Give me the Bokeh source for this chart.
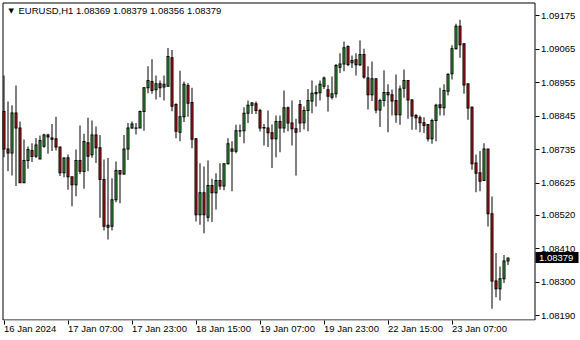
from bokeh.plotting import figure
from bokeh.models import (Range1d, FixedTicker, Label, PrintfTickFormatter, ColumnDataSource,
                          LinearAxis)
from bokeh.embed import file_html
from bokeh.resources import INLINE

symbol_title = "EURUSD,H1  1.08369 1.08379 1.08356 1.08379"

opens = [1.08860, 1.08737, 1.08724, 1.08855, 1.08806, 1.08626, 1.08699, 1.08732, 1.08713, 1.08704,
         1.08746, 1.08783, 1.08773, 1.08770, 1.08743, 1.08659, 1.08708, 1.08646, 1.08619, 1.08699,
         1.08663, 1.08757, 1.08718, 1.08783, 1.08741, 1.08637, 1.08486, 1.08483, 1.08570, 1.08666,
         1.08655, 1.08737, 1.08806, 1.08806, 1.08806, 1.08860, 1.08938, 1.08958, 1.08931, 1.08951,
         1.08940, 1.08943, 1.09036, 1.08883, 1.08792, 1.08843, 1.08945, 1.08889, 1.08770, 1.08521,
         1.08593, 1.08513, 1.08617, 1.08593, 1.08633, 1.08615, 1.08688, 1.08737, 1.08729, 1.08796,
         1.08797, 1.08854, 1.08880, 1.08885, 1.08863, 1.08806, 1.08806, 1.08790, 1.08770, 1.08827,
         1.08806, 1.08872, 1.08822, 1.08803, 1.08883, 1.08823, 1.08863, 1.08894, 1.08918, 1.08921,
         1.08943, 1.08931, 1.08907, 1.08918, 1.09005, 1.09016, 1.09073, 1.09020, 1.09030, 1.09013,
         1.09047, 1.08970, 1.08915, 1.08967, 1.08865, 1.08896, 1.08922, 1.08915, 1.08896, 1.08849,
         1.08936, 1.08962, 1.08898, 1.08847, 1.08839, 1.08823, 1.08817, 1.08770, 1.08830, 1.08882,
         1.08872, 1.08926, 1.08984, 1.09066, 1.09140, 1.09082, 1.08951, 1.08874, 1.08691, 1.08659,
         1.08633, 1.08737, 1.08524, 1.08303, 1.08278, 1.08311, 1.08369]
highs = [1.08978, 1.08893, 1.08880, 1.08945, 1.08827, 1.08768, 1.08745, 1.08756, 1.08773, 1.08781,
         1.08787, 1.08787, 1.08819, 1.08843, 1.08743, 1.08710, 1.08719, 1.08646, 1.08735, 1.08814,
         1.08787, 1.08839, 1.08830, 1.08811, 1.08783, 1.08702, 1.08707, 1.08641, 1.08696, 1.08668,
         1.08783, 1.08822, 1.08827, 1.08822, 1.08863, 1.08940, 1.09008, 1.09031, 1.08978, 1.08962,
         1.08978, 1.09068, 1.09062, 1.08887, 1.08994, 1.08958, 1.08953, 1.08938, 1.08773, 1.08690,
         1.08679, 1.08699, 1.08639, 1.08657, 1.08690, 1.08690, 1.08772, 1.08762, 1.08816, 1.08817,
         1.08874, 1.08896, 1.08891, 1.08893, 1.08869, 1.08819, 1.08863, 1.08817, 1.08847, 1.08847,
         1.08929, 1.08876, 1.08896, 1.08836, 1.08898, 1.08876, 1.08934, 1.08962, 1.08945, 1.08962,
         1.08975, 1.08947, 1.08975, 1.09016, 1.09051, 1.09090, 1.09077, 1.09044, 1.09051, 1.09093,
         1.09066, 1.09008, 1.09024, 1.08967, 1.08902, 1.08995, 1.08949, 1.08932, 1.08981, 1.08945,
         1.08998, 1.08962, 1.08901, 1.08852, 1.08847, 1.08841, 1.08819, 1.08836, 1.08885, 1.08938,
         1.08949, 1.08986, 1.09077, 1.09148, 1.09161, 1.09084, 1.08951, 1.08876, 1.08719, 1.08730,
         1.08756, 1.08737, 1.08581, 1.08395, 1.08351, 1.08389, 1.08379]
lows = [1.08710, 1.08664, 1.08650, 1.08615, 1.08626, 1.08626, 1.08672, 1.08694, 1.08707, 1.08704,
        1.08741, 1.08721, 1.08730, 1.08732, 1.08648, 1.08644, 1.08603, 1.08549, 1.08582, 1.08655,
        1.08606, 1.08664, 1.08708, 1.08691, 1.08511, 1.08469, 1.08440, 1.08469, 1.08562, 1.08559,
        1.08652, 1.08701, 1.08803, 1.08784, 1.08806, 1.08797, 1.08920, 1.08918, 1.08899, 1.08907,
        1.08896, 1.08943, 1.08861, 1.08772, 1.08762, 1.08825, 1.08843, 1.08739, 1.08499, 1.08488,
        1.08460, 1.08499, 1.08497, 1.08538, 1.08603, 1.08601, 1.08686, 1.08598, 1.08723, 1.08776,
        1.08756, 1.08822, 1.08852, 1.08852, 1.08794, 1.08748, 1.08743, 1.08674, 1.08710, 1.08726,
        1.08790, 1.08795, 1.08748, 1.08650, 1.08792, 1.08801, 1.08795, 1.08854, 1.08876, 1.08896,
        1.08934, 1.08860, 1.08899, 1.08905, 1.08986, 1.08992, 1.09008, 1.09003, 1.08978, 1.09009,
        1.08967, 1.08866, 1.08894, 1.08854, 1.08809, 1.08876, 1.08792, 1.08847, 1.08823, 1.08816,
        1.08905, 1.08836, 1.08800, 1.08800, 1.08792, 1.08789, 1.08761, 1.08754, 1.08762, 1.08847,
        1.08847, 1.08912, 1.08965, 1.09063, 1.09036, 1.08918, 1.08833, 1.08669, 1.08595, 1.08598,
        1.08633, 1.08482, 1.08212, 1.08250, 1.08239, 1.08297, 1.08356]
closes = [1.08737, 1.08724, 1.08855, 1.08806, 1.08626, 1.08699, 1.08735, 1.08712, 1.08750, 1.08765,
          1.08783, 1.08776, 1.08769, 1.08743, 1.08659, 1.08707, 1.08646, 1.08619, 1.08699, 1.08664,
          1.08761, 1.08713, 1.08783, 1.08741, 1.08637, 1.08483, 1.08480, 1.08570, 1.08666, 1.08655,
          1.08737, 1.08806, 1.08819, 1.08805, 1.08860, 1.08938, 1.08962, 1.08929, 1.08951, 1.08938,
          1.08949, 1.09040, 1.08877, 1.08795, 1.08843, 1.08949, 1.08887, 1.08769, 1.08521, 1.08593,
          1.08521, 1.08617, 1.08593, 1.08633, 1.08615, 1.08688, 1.08754, 1.08729, 1.08797, 1.08797,
          1.08854, 1.08880, 1.08888, 1.08863, 1.08806, 1.08807, 1.08790, 1.08770, 1.08827, 1.08806,
          1.08872, 1.08822, 1.08803, 1.08792, 1.08822, 1.08863, 1.08896, 1.08920, 1.08922, 1.08949,
          1.08970, 1.08910, 1.08918, 1.09011, 1.09016, 1.09069, 1.09014, 1.09027, 1.09013, 1.09047,
          1.08973, 1.08915, 1.08967, 1.08865, 1.08896, 1.08922, 1.08915, 1.08894, 1.08849, 1.08934,
          1.08962, 1.08898, 1.08845, 1.08839, 1.08823, 1.08814, 1.08770, 1.08830, 1.08880, 1.08872,
          1.08929, 1.08981, 1.09066, 1.09140, 1.09079, 1.08947, 1.08871, 1.08688, 1.08657, 1.08631,
          1.08737, 1.08524, 1.08303, 1.08278, 1.08311, 1.08369, 1.08379]

price_ticks = [1.09175, 1.09065, 1.08955, 1.08845, 1.08735, 1.08625, 1.08520, 1.08410, 1.08300, 1.08190]
time_tick_bars = [0, 16, 32, 48, 64, 80, 96, 112]
time_tick_labels = ["16 Jan 2024", "17 Jan 07:00", "17 Jan 23:00", "18 Jan 15:00",
                    "19 Jan 07:00", "19 Jan 23:00", "22 Jan 15:00", "23 Jan 07:00"]
last_price = 1.08379

FONT = "Liberation Sans"
UP = "#3cbc3c"
DOWN = "#e01c1c"

# canvas geometry: the frame spans the whole width; the price scale lives inside it
FW, FH = 580, 320
BAR_PX = 4.0
X0 = -0.875
X_END = X0 + FW / BAR_PX
Y_TOP, Y_BOT = 1.0922425, 1.0817369
DY = (Y_TOP - Y_BOT) / FH   # price per screen pixel


def x_at(px):
    return X0 + px / BAR_PX


def y_at(px):
    return Y_TOP - px * DY


idx = list(range(len(opens)))
colors = [UP if c >= o else DOWN for o, c in zip(opens, closes)]
tops = [max(o, c) for o, c in zip(opens, closes)]
bots = [min(o, c) for o, c in zip(opens, closes)]
# body drawn as a black 3 px block with a 1 px coloured core (inset by one pixel)
outer_top = [t + 0.5 * DY for t in tops]
outer_bot = [b - 0.5 * DY for b in bots]
inner_top = [t - 0.5 * DY if t - b > DY else t for t, b in zip(tops, bots)]
inner_bot = [b + 0.5 * DY if t - b > DY else t for t, b in zip(tops, bots)]
src = ColumnDataSource(dict(x=idx, high=highs, low=lows, otop=outer_top, obot=outer_bot,
                            itop=inner_top, ibot=inner_bot, color=colors))

p = figure(frame_width=FW, frame_height=FH, output_backend="svg", toolbar_location=None,
           x_range=Range1d(X0, X_END), y_range=Range1d(Y_BOT, Y_TOP),
           y_axis_location="right", min_border_left=0, min_border_top=0,
           min_border_right=0, min_border_bottom=20)
p.background_fill_color = "white"
p.border_fill_color = "white"
p.outline_line_color = None
p.xgrid.visible = False
p.ygrid.visible = False

SCALE_X = x_at(534.5)

# chart border (drawn as an unfilled rectangle glyph)
p.quad(left=[x_at(2.5)], right=[SCALE_X], bottom=[y_at(319.5)], top=[y_at(2.5)],
       fill_color=None, line_color="black", line_width=1)

# wicks (1 px black columns) and bodies
p.vbar(x="x", width=0.25, top="high", bottom="low", source=src,
       fill_color="black", line_color=None)
p.vbar(x="x", width=0.75, top="otop", bottom="obot", source=src,
       fill_color="black", line_color=None)
p.vbar(x="x", width=0.25, top="itop", bottom="ibot", source=src,
       fill_color="color", line_color=None)

ya = p.yaxis[0]
ya.fixed_location = SCALE_X
ya.ticker = FixedTicker(ticks=price_ticks)
ya.formatter = PrintfTickFormatter(format="%.5f")
ya.major_tick_in = 0
ya.major_tick_out = 4
ya.minor_tick_in = 0
ya.minor_tick_out = 0
ya.axis_line_color = None
ya.major_tick_line_color = "black"
ya.major_label_standoff = 2
ya.major_label_text_font = FONT
ya.major_label_text_font_size = "9.5px"
ya.major_label_text_color = "black"

# current-price marker: black box (a thick tick) with a white label on the price scale
pa = LinearAxis(fixed_location=SCALE_X,
                ticker=FixedTicker(ticks=[last_price]),
                formatter=PrintfTickFormatter(format="%.5f"))
pa.axis_line_color = None
pa.major_tick_in = 0
pa.major_tick_out = 43
pa.major_tick_line_width = 11
pa.major_tick_line_color = "black"
pa.major_tick_line_cap = "butt"
pa.minor_tick_in = 0
pa.minor_tick_out = 0
pa.major_label_standoff = -39
pa.major_label_text_font = FONT
pa.major_label_text_font_size = "9.5px"
pa.major_label_text_color = "white"
p.right = [ya, pa]

xa = p.xaxis[0]
xa.ticker = FixedTicker(ticks=time_tick_bars)
xa.major_label_overrides = {b: l for b, l in zip(time_tick_bars, time_tick_labels)}
xa.major_tick_in = 0
xa.major_tick_out = 4
xa.minor_tick_in = 0
xa.minor_tick_out = 0
xa.axis_line_color = None
xa.major_label_standoff = 4
xa.major_label_orientation = -0.0001
xa.major_label_text_font = FONT
xa.major_label_text_font_size = "9.5px"
xa.major_label_text_color = "black"

p.add_layout(Label(x=8, y=FH - 10, x_units="screen", y_units="screen", text="\u25bc",
                   text_font="DejaVu Sans", text_font_size="7px", text_baseline="middle",
                   text_color="black"))
p.add_layout(Label(x=18, y=FH - 10, x_units="screen", y_units="screen", text=symbol_title,
                   text_font=FONT, text_font_size="9.5px", text_baseline="middle",
                   text_color="black"))

open("out.html", "w").write(file_html(p, INLINE))
